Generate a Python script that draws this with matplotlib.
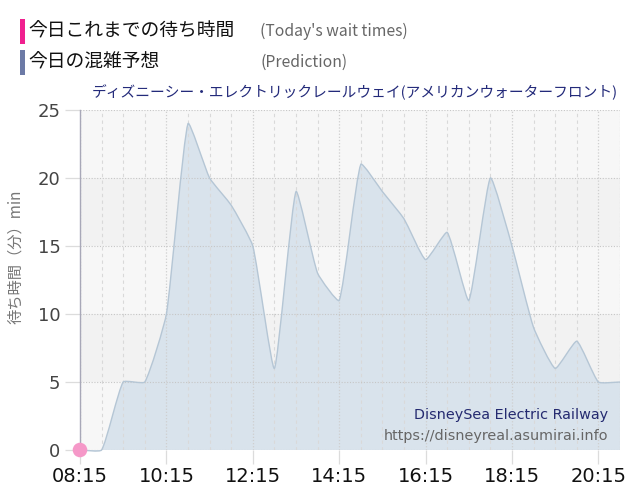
import numpy as np
import matplotlib
matplotlib.use("Agg")
import matplotlib.pyplot as plt
from matplotlib.path import Path
from matplotlib.patches import PathPatch, Rectangle

plt.rcParams['font.family'] = ['Noto Sans CJK JP', 'DejaVu Sans']

# ---- data ----
times = ["08:15", "08:45", "09:15", "09:45", "10:15", "10:45", "11:15", "11:45",
         "12:15", "12:45", "13:15", "13:45", "14:15", "14:45", "15:15", "15:45",
         "16:15", "16:45", "17:15", "17:45", "18:15", "18:45", "19:15", "19:45",
         "20:15", "20:45"]
prediction = [0, 0, 5, 5, 10, 24, 20, 18, 15, 6, 19, 13, 11, 21, 19, 17,
              14, 16, 11, 20, 15, 9, 6, 8, 5, 5]
today_times = ["08:15"]
today_values = [0]
tick_labels = ["08:15", "10:15", "12:15", "14:15", "16:15", "18:15", "20:15"]
y_ticks = [0, 5, 10, 15, 20, 25]

title = "ディズニーシー・エレクトリックレールウェイ(アメリカンウォーターフロント)"
ylabel = "待ち時間（分）min"


def to_min(s):
    h, m = s.split(":")
    return int(h) * 60 + int(m)


x = np.array([to_min(t) for t in times], dtype=float)
y = np.array(prediction, dtype=float)

W, H = 640, 500
fig = plt.figure(figsize=(6.4, 5.0), dpi=100)
ax = fig.add_axes([80 / W, 1 - 450 / H, 540 / W, 340 / H])
ax.set_xlim(x[0], x[-1])
ax.set_ylim(0, 25)

# background bands
band_cols = ['#f7f7f7', '#f2f2f2']
for i in range(5):
    ax.axhspan(i * 5, (i + 1) * 5, color=band_cols[i % 2], zorder=0, lw=0)

# spline (Chart.js style, low tension, in pixel space)
P = ax.transData.transform(np.column_stack([x, y]))
n = len(P)
t = 0.15
prev_c = np.zeros_like(P)
next_c = np.zeros_like(P)
for i in range(n):
    p0 = P[i - 1] if i > 0 else P[i]
    p1 = P[i]
    p2 = P[i + 1] if i < n - 1 else P[i]
    d01 = np.hypot(*(p1 - p0))
    d12 = np.hypot(*(p2 - p1))
    tot = d01 + d12
    s01 = d01 / tot if tot else 0
    s12 = d12 / tot if tot else 0
    prev_c[i] = p1 - t * s01 * (p2 - p0)
    next_c[i] = p1 + t * s12 * (p2 - p0)
inv = ax.transData.inverted()
Pd = inv.transform(P)
prev_d = inv.transform(prev_c)
next_d = inv.transform(next_c)

verts = [tuple(Pd[0])]
codes = [Path.MOVETO]
for i in range(n - 1):
    verts += [tuple(next_d[i]), tuple(prev_d[i + 1]), tuple(Pd[i + 1])]
    codes += [Path.CURVE4] * 3
line_path = Path(verts, codes)

fill_verts = [(x[0], 0)] + verts + [(x[-1], 0), (x[0], 0)]
fill_codes = [Path.MOVETO, Path.LINETO] + codes[1:] + [Path.LINETO, Path.CLOSEPOLY]
ax.add_patch(PathPatch(Path(fill_verts, fill_codes), facecolor='#d9e3ec',
                       edgecolor='none', zorder=1, clip_on=False))
ax.add_patch(PathPatch(line_path, facecolor='none', edgecolor='#b5c6d5',
                       lw=1.0, zorder=4, clip_on=False))

# grid lines
major_x = [to_min(s) for s in tick_labels]
for xm in np.arange(x[0], x[-1] + 1, 30):
    if xm in major_x:
        ax.axvline(xm, color='#cfcfcf', lw=0.9, ls=(0, (1, 1.5)), zorder=2)
    else:
        ax.axvline(xm, color='#d9d9d9', lw=0.8, ls=(0, (3, 3)), zorder=2)
for yv in y_ticks:
    ax.axhline(yv, color='#c6c6c6', lw=0.8, ls=(0, (1, 1.5)), zorder=2)
ax.axvline(x[-1], color='#cfcfcf', lw=0.8, ls=(0, (1, 1.5)), zorder=2)

# today's series
tx = [to_min(s) for s in today_times]
ax.scatter(tx, today_values, s=110, color='#f598c8', zorder=6, clip_on=False,
           edgecolors='none')

for s in ['top', 'right', 'bottom']:
    ax.spines[s].set_visible(False)
ax.spines['left'].set_color('#a8a8b8')
ax.spines['left'].set_linewidth(1.0)
ax.spines['left'].set_zorder(5)

ax.set_xticks(major_x)
ax.set_xticklabels(tick_labels, family='DejaVu Sans', fontsize=14, color='#111111')
ax.set_yticks(y_ticks)
ax.set_yticklabels([str(v) for v in y_ticks], family='DejaVu Sans', fontsize=13,
                   color='#444444')
ax.tick_params(axis='x', length=10, color='#dcdcdc', width=0.9, pad=2)
ax.tick_params(axis='y', length=11, color='#dcdcdc', width=0.9, pad=3)

# y label
fig.text(16 / W, 1 - 257 / H, ylabel, rotation=90, ha='center', va='center',
         fontsize=11, color='#777777')

# title
fig.text(618 / W, 1 - 92 / H, title, ha='right', va='center', fontsize=10.6,
         color='#232a7a')

# legend
fig.add_artist(Rectangle((20 / W, 1 - 44 / H), 5 / W, 25 / H,
                         transform=fig.transFigure, color='#f0208f', lw=0))
fig.add_artist(Rectangle((20 / W, 1 - 75 / H), 5 / W, 25 / H,
                         transform=fig.transFigure, color='#6c7aa6', lw=0))
fig.text(28 / W, 1 - 31 / H, "今日これまでの待ち時間", ha='left', va='center',
         fontsize=13.5, color='#111111')
fig.text(28 / W, 1 - 62 / H, "今日の混雑予想", ha='left', va='center',
         fontsize=13.5, color='#111111')
fig.text(260 / W, 1 - 31 / H, "(Today's wait times)", ha='left', va='center',
         fontsize=11.3, color='#666666')
fig.text(260 / W, 1 - 62 / H, "(Prediction)", ha='left', va='center',
         fontsize=11.3, color='#666666')

# watermark
fig.text(608 / W, 1 - 415 / H, "DisneySea Electric Railway", ha='right',
         va='center', fontsize=10.4, color='#242a70', family='DejaVu Sans')
fig.text(608 / W, 1 - 436 / H, "https://disneyreal.asumirai.info", ha='right',
         va='center', fontsize=10.4, color='#666666', family='DejaVu Sans')

fig.savefig("out.png", dpi=100)
